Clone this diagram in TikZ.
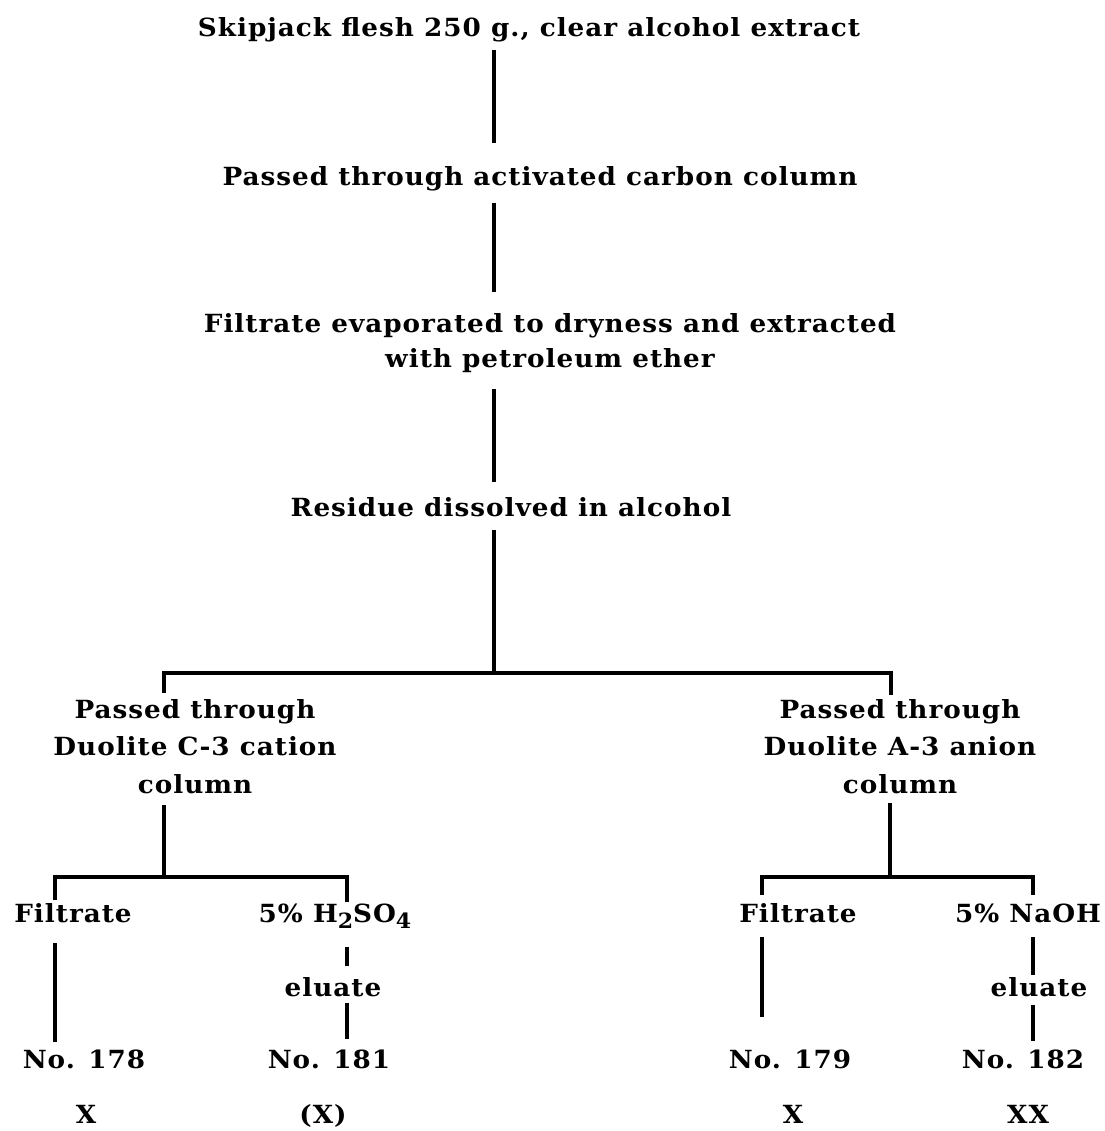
\documentclass[tikz,border=0pt]{standalone}
\usepackage{fontspec}
\setmainfont{DejaVu Serif}[FakeStretch=1.05, LetterSpace=4]
\newcommand{\subdown}[1]{\raisebox{-6pt}{\fontsize{21}{21}\selectfont #1}}
\begin{document}
\begin{tikzpicture}[x=1pt,y=-1pt,
  txt/.style={inner sep=0pt, outer sep=0pt, anchor=base, font=\fontsize{25}{28}\selectfont\bfseries},
  blk/.style={inner sep=0pt, outer sep=0pt, anchor=north, align=center, font=\fontsize{25}{37.5}\selectfont\bfseries},
  result/.style={txt},
  lnk/.style={line width=3.4pt}]
\useasboundingbox (0,0) rectangle (1104,1131);

% nodes
\node[txt] (title) at (529,37) {Skipjack flesh 250 g., clear alcohol extract};
\node[txt] (carbon) at (540,186) {Passed through activated carbon column};
\node[blk, font=\fontsize{25}{35}\selectfont\bfseries] (filt) at (550,314) {Filtrate evaporated to dryness and extracted\\with petroleum ether};
\node[txt] (resid) at (511,516) {Residue dissolved in alcohol};
\node[blk] (cat) at (195,699) {Passed through\\Duolite C-3 cation\\column};
\node[blk] (ani) at (900,699) {Passed through\\Duolite A-3 anion\\column};
\node[txt] (f1) at (73,922) {Filtrate};
\node[txt] (acid) at (335,922) {5\% H\subdown{2}SO\subdown{4}};
\node[txt] (el1) at (333,996) {eluate};
\node[txt] (n178) at (84,1068) {No. 178};
\node[txt] (n181) at (329,1068) {No. 181};
\node[result] (x1) at (86,1123) {X};
\node[result] (x2) at (323,1123) {(X)};
\node[txt] (f2) at (798,922) {Filtrate};
\node[txt] (base) at (1028,922) {5\% NaOH};
\node[txt] (el2) at (1039,996) {eluate};
\node[txt] (n179) at (790,1068) {No. 179};
\node[txt] (n182) at (1023,1068) {No. 182};
\node[result] (x3) at (793,1123) {X};
\node[result] (x4) at (1028,1123) {XX};

% junction coordinates
\coordinate (sp) at (494,0);
\coordinate (b1M) at (494,673);
\coordinate (b1L) at (164,673);
\coordinate (b1R) at (891,673);
\coordinate (b2M) at (164,877);
\coordinate (b2L) at (55,877);
\coordinate (b2R) at (347,877);
\coordinate (b3M) at (890,877);
\coordinate (b3L) at (762,877);
\coordinate (b3R) at (1033,877);

% connectors
\draw[lnk, shorten <=7pt, shorten >=24pt] (title.south -| sp) -- (carbon.north -| sp);
\draw[lnk, shorten <=11pt, shorten >=22pt] (carbon.south -| sp) -- (filt.north -| sp);
\draw[lnk, shorten <=16pt, shorten >=15pt] (filt.south -| sp) -- (resid.north -| sp);
\draw[lnk, shorten <=14pt] (resid.south -| sp) -- (b1M);
\draw[lnk, shorten <=6pt, shorten >=4pt] (cat.north -| b1L) -- (b1L) -- (b1R) -- (ani.north -| b1R);

\draw[lnk, shorten <=12pt] (cat.south -| b2M) -- (b2M);
\draw[lnk, shorten <=3pt, shorten >=1pt] (f1.north -| b2L) -- (b2L) -- (b2R) -- (acid.north -| b2R);
\draw[lnk, shorten <=21pt, shorten >=7pt] (f1.south -| b2L) -- (n178.north -| b2L);
\draw[lnk, shorten <=19pt, shorten >=11pt] (acid.south -| b2R) -- (el1.north -| b2R);
\draw[lnk, shorten <=7pt, shorten >=10pt] (el1.south -| b2R) -- (n181.north -| b2R);

\draw[lnk, shorten <=10pt] (ani.south -| b3M) -- (b3M);
\draw[lnk, shorten <=8pt, shorten >=8pt] (f2.north -| b3L) -- (b3L) -- (b3R) -- (base.north -| b3R);
\draw[lnk, shorten <=15pt, shorten >=32pt] (f2.south -| b3L) -- (n179.north -| b3L);
\draw[lnk, shorten <=15pt, shorten >=2pt] (base.south -| b3R) -- (el2.north -| b3R);
\draw[lnk, shorten <=9pt, shorten >=8pt] (el2.south -| b3R) -- (n182.north -| b3R);
\end{tikzpicture}
\end{document}
